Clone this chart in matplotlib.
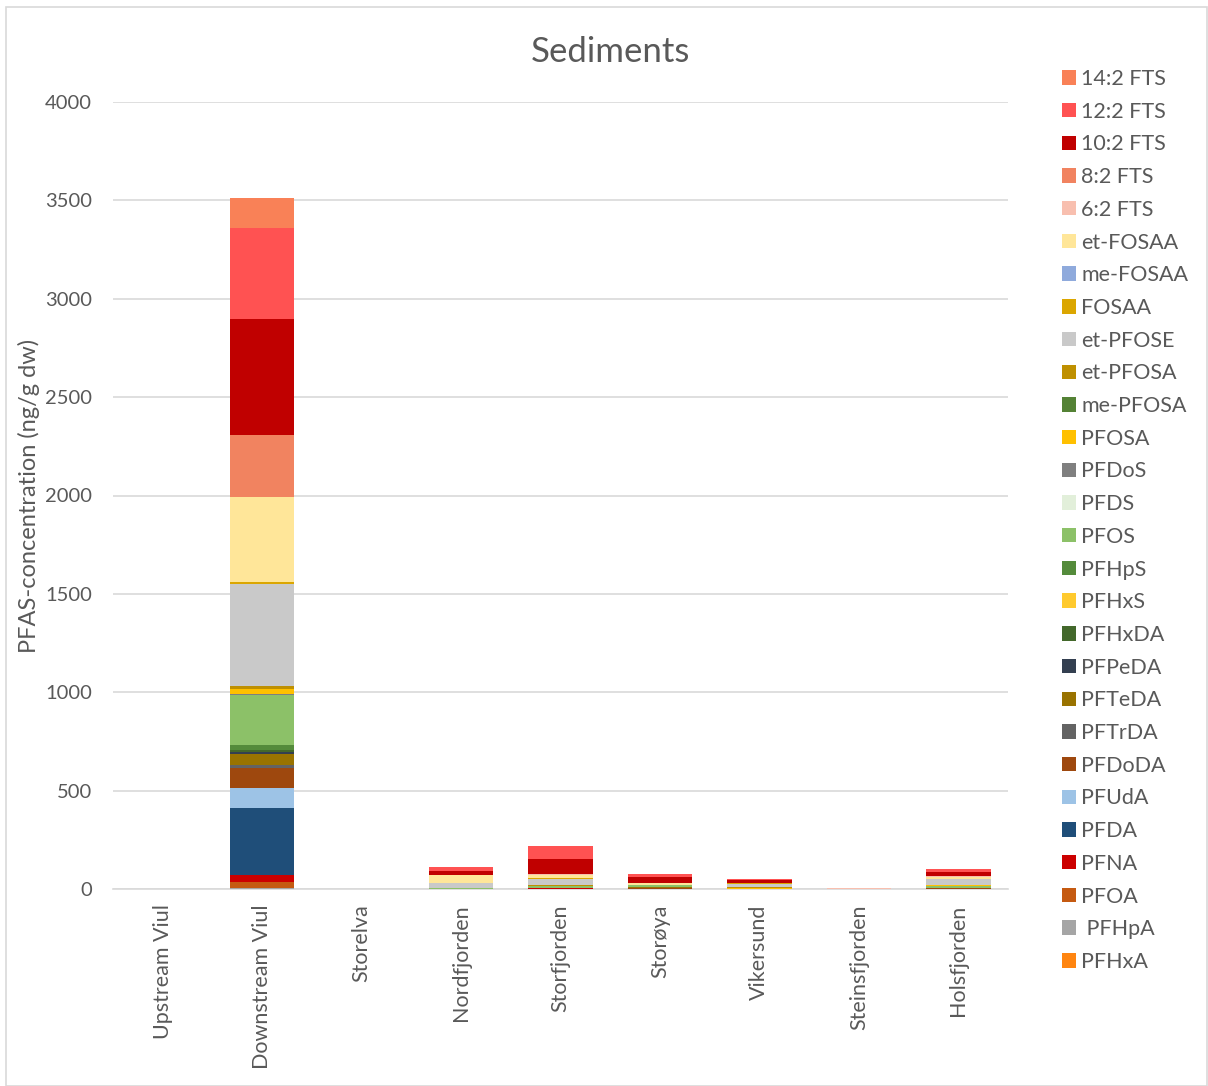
import matplotlib
matplotlib.use("Agg")
import matplotlib.pyplot as plt
from matplotlib.patches import Rectangle, Patch
import numpy as np

plt.rcParams['font.family'] = ['Lato', 'DejaVu Sans']

sites = ["Upstream Viul", "Downstream Viul", "Storelva", "Nordfjorden", "Storfjorden",
         "Storøya", "Vikersund", "Steinsfjorden", "Holsfjorden"]

# values in ng/g dw, bottom of stack first
PFHxA    = [0, 2, 0, 0, 0, 0, 0, 0, 0]
PFHpA    = [0, 3, 0, 0, 0, 0, 0, 0, 0]
PFOA     = [0, 30, 0, 1, 2, 1, 0, 0, 1]
PFNA     = [0, 35, 0, 0, 1, 0, 0, 0, 0]
PFDA     = [0, 343, 0, 0, 1, 1, 0, 0, 1]
PFUdA    = [0, 99, 0, 0, 0, 0, 0, 0, 0]
PFDoDA   = [0, 105, 0, 1, 2, 4, 0, 0, 2]
PFTrDA   = [0, 13, 0, 0, 0, 0, 0, 0, 0]
PFTeDA   = [0, 56, 0, 0, 1, 2, 0, 0, 1]
PFPeDA   = [0, 12, 0, 0, 0, 0, 0, 0, 0]
PFHxDA   = [0, 8, 0, 0, 0, 0, 0, 0, 0]
PFHxS    = [0, 0, 0, 0, 0, 0, 0, 0, 0]
PFHpS    = [0, 25, 0, 0, 0, 0, 0, 0, 0]
PFOS     = [0, 254, 0, 2, 6, 10, 2, 0, 8]
PFDS     = [0, 2, 0, 0, 0, 0, 0, 0, 0]
PFDoS    = [0, 5, 0, 0, 0, 0, 0, 0, 0]
PFOSA    = [0, 25, 0, 1, 4, 2, 4, 0, 6]
me_PFOSA = [0, 0, 0, 0, 0, 0, 0, 0, 0]
et_PFOSA = [0, 15, 0, 0, 1, 0, 2, 0, 1]
et_PFOSE = [0, 520, 0, 25, 35, 0, 19, 0, 30]
FOSAA    = [0, 8, 0, 1, 4, 0, 1, 0, 1]
me_FOSAA = [0, 0, 0, 0, 0, 0, 0, 0, 0]
et_FOSAA = [0, 430, 0, 42, 14, 8, 5, 0, 12]
FTS_6_2  = [0, 0, 0, 0, 3, 0, 0, 5, 2]
FTS_8_2  = [0, 317, 0, 0, 0, 0, 0, 0, 0]
FTS_10_2 = [0, 591, 0, 20, 80, 32, 12, 0, 19]
FTS_12_2 = [0, 462, 0, 20, 66, 15, 7, 0, 19]
FTS_14_2 = [0, 150, 0, 0, 0, 0, 0, 0, 0]

series = [
    ("PFHxA", PFHxA, "#FF8510"),
    (" PFHpA", PFHpA, "#A5A5A5"),
    ("PFOA", PFOA, "#C55A11"),
    ("PFNA", PFNA, "#CC0000"),
    ("PFDA", PFDA, "#1F4E79"),
    ("PFUdA", PFUdA, "#9DC3E6"),
    ("PFDoDA", PFDoDA, "#9E480E"),
    ("PFTrDA", PFTrDA, "#636363"),
    ("PFTeDA", PFTeDA, "#997300"),
    ("PFPeDA", PFPeDA, "#333F50"),
    ("PFHxDA", PFHxDA, "#43682B"),
    ("PFHxS", PFHxS, "#FFCA2E"),
    ("PFHpS", PFHpS, "#548B3B"),
    ("PFOS", PFOS, "#8CC168"),
    ("PFDS", PFDS, "#E2EFDA"),
    ("PFDoS", PFDoS, "#7F7F7F"),
    ("PFOSA", PFOSA, "#FFC000"),
    ("me-PFOSA", me_PFOSA, "#548235"),
    ("et-PFOSA", et_PFOSA, "#BF9000"),
    ("et-PFOSE", et_PFOSE, "#C9C9C9"),
    ("FOSAA", FOSAA, "#DBA600"),
    ("me-FOSAA", me_FOSAA, "#8FAADC"),
    ("et-FOSAA", et_FOSAA, "#FFE699"),
    ("6:2 FTS", FTS_6_2, "#F8BFAF"),
    ("8:2 FTS", FTS_8_2, "#F18360"),
    ("10:2 FTS", FTS_10_2, "#C00000"),
    ("12:2 FTS", FTS_12_2, "#FF5252"),
    ("14:2 FTS", FTS_14_2, "#F98157"),
]

fig = plt.figure(figsize=(12.08, 10.86), dpi=100)
ax = fig.add_axes([113/1208, 1-889/1086, (1008-113)/1208, (889-102)/1086])

x = np.arange(len(sites))
bottom = np.zeros(len(sites))
handles = []
for name, vals, col in series:
    v = np.array(vals, dtype=float)
    ax.bar(x, v, bottom=bottom, width=0.65, color=col, linewidth=0, zorder=3)
    bottom += v
    handles.append(Patch(facecolor=col, edgecolor='none', label=name))

ax.set_xlim(-0.5, len(sites) - 0.5)
ax.set_ylim(0, 4000)
ax.set_yticks(np.arange(0, 4001, 500))
ax.set_yticklabels([str(v) for v in range(0, 4001, 500)])
ax.yaxis.grid(True, color="#D9D9D9", linewidth=1.2, zorder=0)
ax.set_axisbelow(True)
for s in ["top", "right", "left"]:
    ax.spines[s].set_visible(False)
ax.spines["bottom"].set_color("#D9D9D9")
ax.spines["bottom"].set_linewidth(1.2)
ax.tick_params(axis='y', length=0, labelsize=14.5, colors="#595959", pad=15)
ax.tick_params(axis='x', length=0, labelsize=15.5, colors="#595959", pad=11)
ax.set_xticks(x)
ax.set_xticklabels(sites, rotation=90, va='top', ha='center')
ax.set_ylabel("PFAS-concentration (ng/g dw)", fontsize=17, color="#595959")
ax.yaxis.set_label_coords((40-113)/895, 0.5)

fig.text(610/1208, 1-52/1086, "Sediments", fontsize=25, color="#595959", ha='center', va='center')

leg = fig.legend(handles=handles[::-1], loc='upper left',
                 bbox_to_anchor=(1062/1208, 1-69/1086), frameon=False,
                 fontsize=15.5, labelcolor="#595959", handlelength=0.65,
                 handleheight=0.65, handletextpad=0.25, labelspacing=0.59,
                 borderaxespad=0, borderpad=0)

fig.patches.append(Rectangle((6/1208, 0.5/1086), 1-7/1208, 1-7/1086, transform=fig.transFigure,
                             fill=False, edgecolor="#D9D9D9", linewidth=1.2))

fig.savefig("out.png", dpi=100, facecolor="white")
